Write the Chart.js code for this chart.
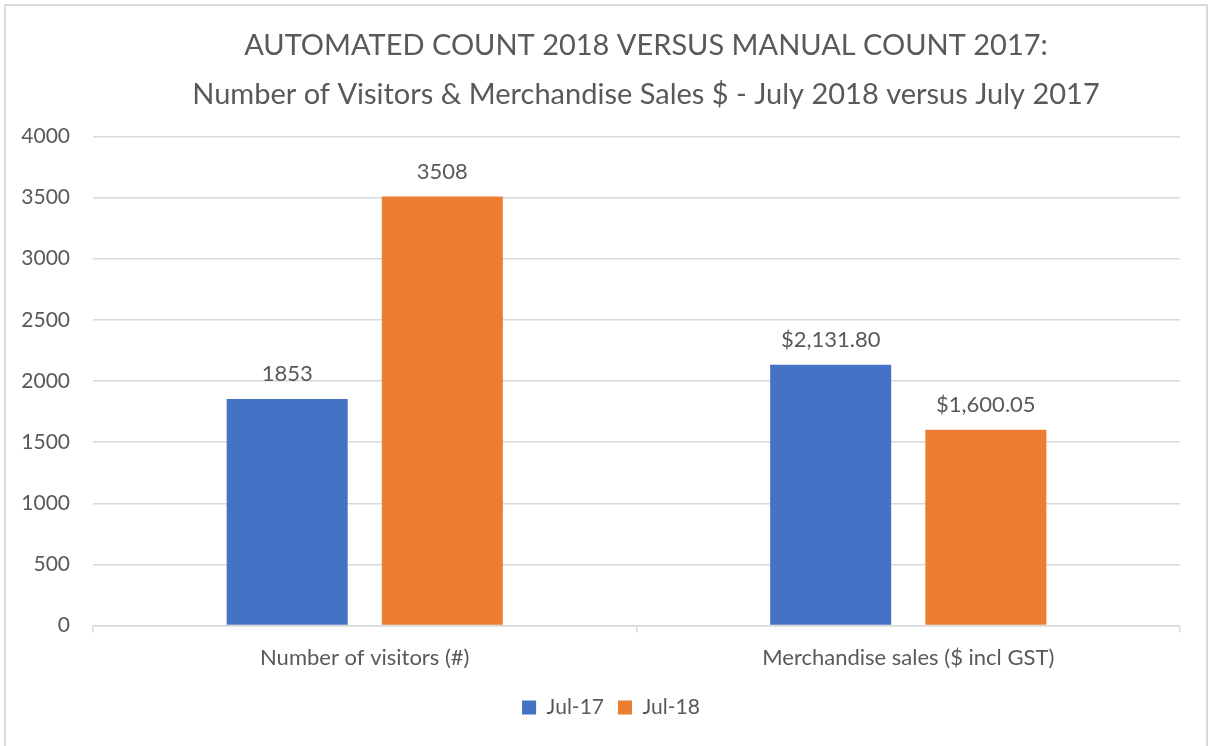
<!DOCTYPE html>
<html>
<head>
<meta charset="utf-8">
<script src="https://cdn.jsdelivr.net/npm/chart.js@4/dist/chart.umd.min.js"></script>
<style>
    html, body { margin: 0; padding: 0; background: #fff; }
    #wrap { position: absolute; left: 0; top: 0; width: 1208px; height: 746px; }
    #frame {
        position: absolute; left: 4px; top: 4px; width: 1204px; height: 760px;
        border: 2px solid #d9d9d9; box-sizing: border-box; pointer-events: none;
    }
</style>
</head>
<body>
<div id="wrap"><canvas id="visitorsChart"></canvas></div>
<div id="frame"></div>
<script>
// Chart data
const categories = ["Number of visitors (#)", "Merchandise sales ($ incl GST)"];
const seriesNames = ["Jul-17", "Jul-18"];
const jul17Values = [1853, 2131.80];
const jul18Values = [3508, 1600.05];
const jul17Labels = ["1853", "$2,131.80"];
const jul18Labels = ["3508", "$1,600.05"];
const titleLines = [
    "AUTOMATED COUNT 2018 VERSUS MANUAL COUNT 2017:",
    "Number of Visitors & Merchandise Sales $ - July 2018 versus July 2017"
];

const textColor = "#595959";
const gridColor = "#d9d9d9";
const fontFamily = "Lato, 'Open Sans', sans-serif";

// Draws value labels above each bar
const barLabels = {
    id: "barLabels",
    afterDatasetsDraw(chart) {
        const ctx = chart.ctx;
        ctx.save();
        ctx.font = "22px " + fontFamily;
        ctx.fillStyle = textColor;
        ctx.textAlign = "center";
        ctx.textBaseline = "middle";
        chart.data.datasets.forEach((ds, i) => {
            chart.getDatasetMeta(i).data.forEach((bar, j) => {
                ctx.fillText(ds.valueLabels[j], bar.x, bar.y - 25);
            });
        });
        ctx.restore();
    }
};

// Nudge title and legend sideways, like the original
const shiftBlocks = {
    id: "shiftBlocks",
    afterLayout(chart) {
        chart.titleBlock.left += 56;
        chart.titleBlock.right += 56;
        chart.legend.left += 21;
        chart.legend.right += 21;
    }
};

document.addEventListener('DOMContentLoaded', function() {
    const ctx = document.getElementById("visitorsChart").getContext("2d");

    new Chart(ctx, {
        type: "bar",
        data: {
            labels: categories,
            datasets: [{
                label: seriesNames[0],
                data: jul17Values,
                valueLabels: jul17Labels,
                backgroundColor: "#4472c4"
            }, {
                label: seriesNames[1],
                data: jul18Values,
                valueLabels: jul18Labels,
                backgroundColor: "#ed7d31"
            }]
        },
        options: {
            responsive: true,
            maintainAspectRatio: false,
            animation: false,
            categoryPercentage: 0.571,
            barPercentage: 0.78,
            layout: {
                padding: { left: 0, right: 28, top: 0, bottom: 18 }
            },
            plugins: {
                title: {
                    display: true,
                    text: titleLines,
                    color: textColor,
                    font: { family: fontFamily, size: 29, weight: "normal", lineHeight: 1.66 },
                    padding: { top: 22, bottom: 18 }
                },
                legend: {
                    position: "bottom",
                    labels: {
                        color: textColor,
                        font: { family: fontFamily, size: 21 },
                        boxWidth: 14,
                        boxHeight: 14,
                        padding: 14
                    }
                },
                tooltip: { enabled: false }
            },
            scales: {
                y: {
                    min: 0,
                    max: 4000,
                    afterFit: function(scale) { scale.width = 93; },
                    ticks: {
                        stepSize: 500,
                        color: textColor,
                        padding: 23,
                        font: { family: fontFamily, size: 21 },
                        callback: function(value) { return String(value); }
                    },
                    grid: { color: gridColor, lineWidth: 1.5, drawTicks: false },
                    border: { display: false }
                },
                x: {
                    ticks: {
                        color: textColor,
                        padding: 12,
                        font: { family: fontFamily, size: 22 }
                    },
                    grid: {
                        color: gridColor,
                        lineWidth: 1.5,
                        drawOnChartArea: false,
                        tickLength: 7
                    },
                    border: { display: true, color: gridColor, width: 1.5 }
                }
            }
        },
        plugins: [barLabels, shiftBlocks]
    });
});
</script>
</body>
</html>
